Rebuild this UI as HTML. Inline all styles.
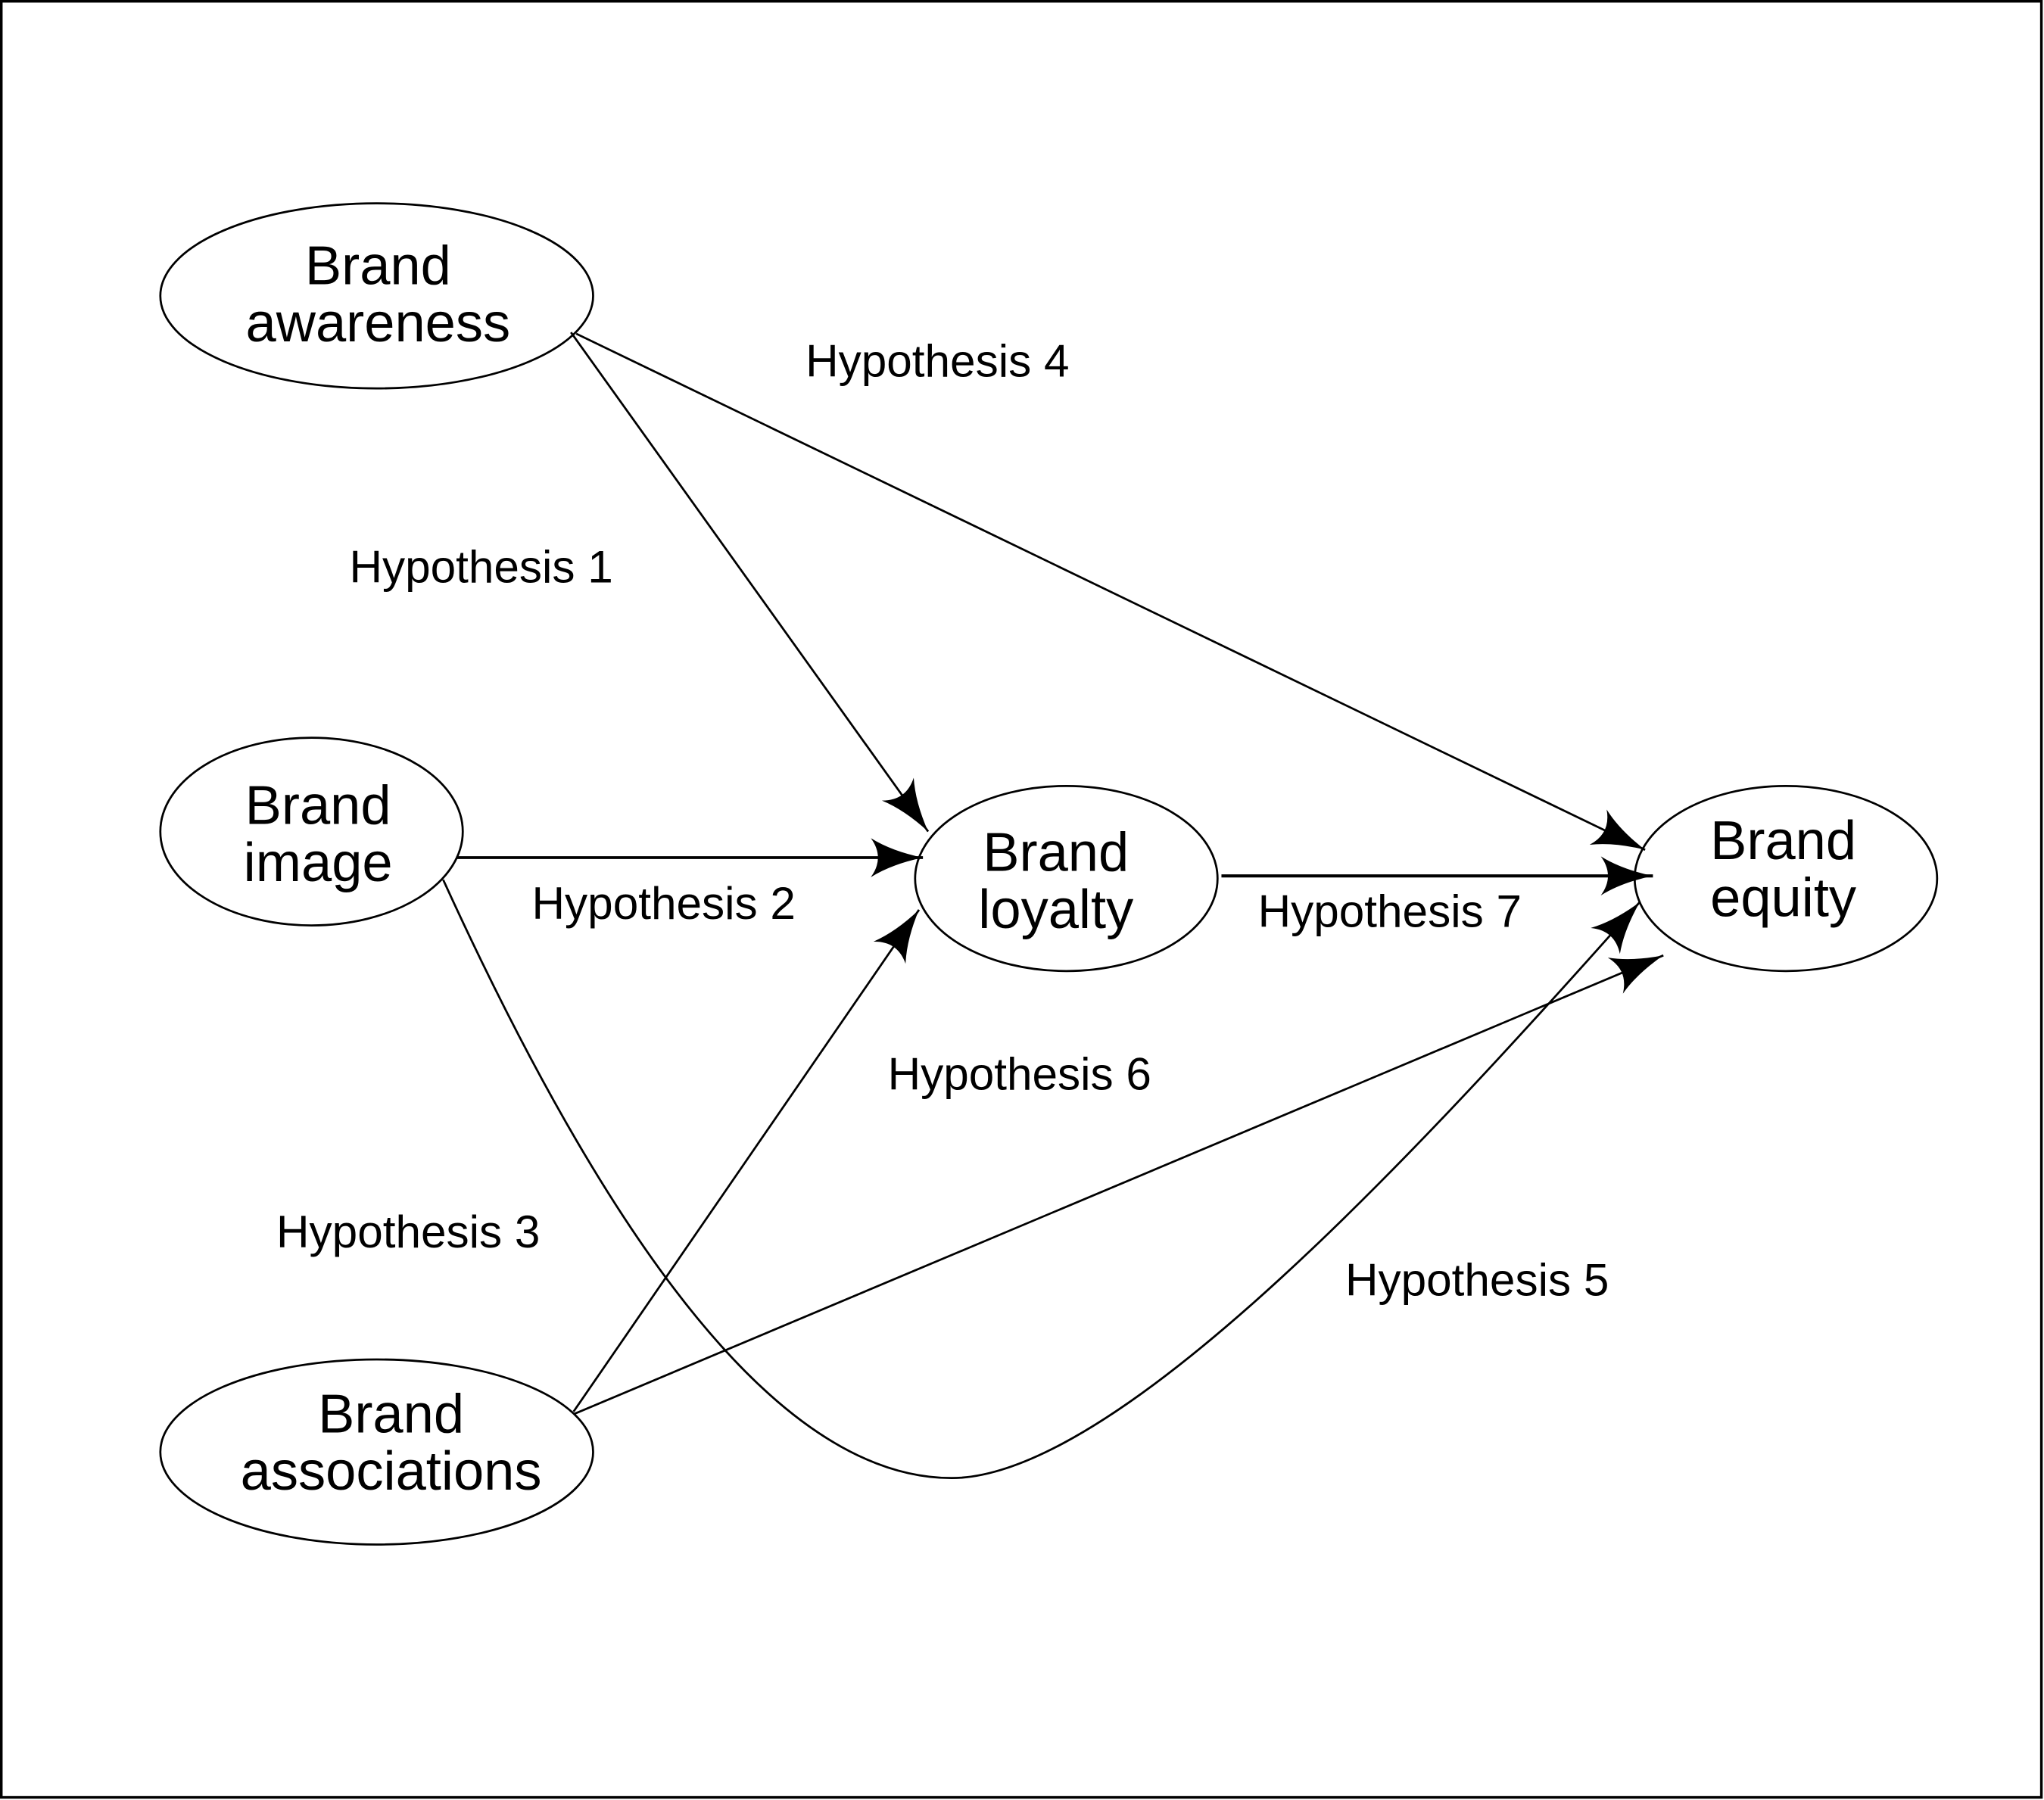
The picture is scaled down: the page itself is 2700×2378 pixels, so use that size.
<!DOCTYPE html>
<html><head><meta charset="utf-8"><style>
html,body{margin:0;padding:0;background:#fff}
svg{display:block}
text{font-family:"Liberation Sans",sans-serif;fill:#000}
.n{font-size:42px;text-anchor:middle}
.l{font-size:35px}
</style></head><body>
<svg width="2700" height="2378" viewBox="0 0 1568 1381" xmlns="http://www.w3.org/2000/svg">
<defs>
<marker id="a" markerUnits="userSpaceOnUse" markerWidth="44" markerHeight="34" refX="40" refY="15" orient="auto">
<path d="M0,0 Q16,10 40,15 Q16,20 0,30 Q11,15 0,0 z" fill="#000"/>
</marker>
</defs>
<rect x="1" y="1" width="1565" height="1378" fill="#fff" stroke="#000" stroke-width="2"/>
<g fill="none" stroke="#000" stroke-width="1.6">
<ellipse cx="289" cy="227" rx="166" ry="71"/>
<ellipse cx="239" cy="638" rx="116" ry="72"/>
<ellipse cx="289" cy="1114" rx="166" ry="71"/>
<ellipse cx="818" cy="674" rx="116" ry="71"/>
<ellipse cx="1370" cy="674" rx="116" ry="71"/>
<line x1="438" y1="255" x2="712" y2="638" marker-end="url(#a)"/>
<line x1="442" y1="256" x2="1262" y2="652" marker-end="url(#a)"/>
<line x1="350" y1="658" x2="708" y2="658" stroke-width="2.2" marker-end="url(#a)"/>
<line x1="937" y1="672" x2="1268" y2="672" stroke-width="2.4" marker-end="url(#a)"/>
<line x1="440" y1="1083" x2="705" y2="698" marker-end="url(#a)"/>
<line x1="440" y1="1085" x2="1276" y2="733" marker-end="url(#a)"/>
<path d="M340,675 C470,960 600,1134 730,1134 C860,1134 1100,870 1258,692" marker-end="url(#a)"/>
</g>
<text class="n" x="290" y="218">Brand</text>
<text class="n" x="290" y="262">awareness</text>
<text class="n" x="244" y="632">Brand</text>
<text class="n" x="244" y="676">image</text>
<text class="n" x="300" y="1099">Brand</text>
<text class="n" x="300" y="1143">associations</text>
<text class="n" x="810" y="668">Brand</text>
<text class="n" x="810" y="712">loyalty</text>
<text class="n" x="1368" y="659">Brand</text>
<text class="n" x="1368" y="703">equity</text>
<text class="l" x="618" y="289">Hypothesis 4</text>
<text class="l" x="268" y="447">Hypothesis 1</text>
<text class="l" x="408" y="705">Hypothesis 2</text>
<text class="l" x="965" y="711">Hypothesis 7</text>
<text class="l" x="681" y="836">Hypothesis 6</text>
<text class="l" x="212" y="957">Hypothesis 3</text>
<text class="l" x="1032" y="994">Hypothesis 5</text>
</svg>
</body></html>
